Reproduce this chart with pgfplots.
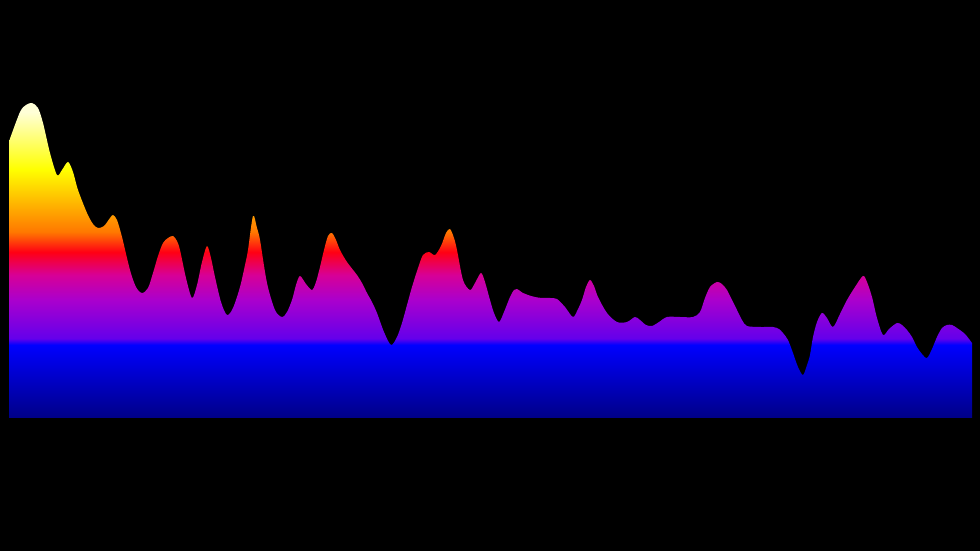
\documentclass[border=0pt]{standalone}
\usepackage{pgfplots}
\pgfplotsset{compat=1.18}
\definecolor{cNavy}{RGB}{0,0,135}
\definecolor{cBlue}{RGB}{0,0,255}
\definecolor{cViolet}{RGB}{100,0,235}
\definecolor{cPurple}{RGB}{170,0,205}
\definecolor{cMagenta}{RGB}{215,0,150}
\definecolor{cRed}{RGB}{255,0,20}
\definecolor{cOrange}{RGB}{255,120,0}
\definecolor{cYellow}{RGB}{255,255,0}
\definecolor{cPale}{RGB}{255,255,215}
\pgfdeclareverticalshading{heat}{100bp}{
color(0bp)=(cNavy); color(25bp)=(cNavy); color(36.6bp)=(cBlue); color(37.6bp)=(cViolet);
color(43.7bp)=(cPurple); color(47.7bp)=(cMagenta); color(51.3bp)=(cRed);
color(54.5bp)=(cOrange); color(64.4bp)=(cYellow); color(73.5bp)=(cPale); color(100bp)=(cPale)}
\begin{document}
\begin{tikzpicture}
\fill[black] (0,0) rectangle (980bp,551bp);
\begin{axis}[at={(0,0)}, anchor=south west, scale only axis,
  width=980bp, height=551bp, xmin=0, xmax=980, ymin=-133, ymax=418, hide axis]
\addplot[draw=none, shading=heat, smooth, tension=0.5] coordinates {
(9.5,278)(20,306)(26,313)(32,315)(38,310)(43,295)(50,265)(57,243)(62,248)(68,256)
(73,246)(78,228)(87,205)(93,194)(98,190)(104,192)(110,200)(113,203)(117,198)(122,181)
(130,148)(136,131)(142,125)(148,130)(153,145)(158,162)(163,175)(168,180)(173,182)(177,177)
(180,168)(186,140)(192,120)(197,133)(202,156)(207,172)(211,160)(215,141)(221,116)(227,103)
(233,110)(240,131)(245,153)(248,168)(253,202)(257,190)(260,178)(267,135)(275,108)(282,101)
(287,106)(292,118)(296,133)(300,142)(306,134)(312,128)(316,136)(320,151)(324,168)(328,182)
(332,185)(336,178)(340,168)(347,156)(357,143)(362,135)(367,125)(372,116)(377,105)(384,86)
(391,73)(397,81)(402,95)(407,113)(412,131)(418,150)(423,163)(429,166)(435,163)(441,172)
(446,185)(450,189)(454,180)(457,168)(463,138)(470,128)(475,135)(481,145)(485,136)(490,118)
(494,105)(499,96)(504,106)(510,121)(514,128)(517,129)(523,125)(528,123)(535,121)(542,120)
(550,120)(557,119)(565,111)(573,101)(578,109)(582,118)(586,131)(590,138)(594,132)(598,121)
(607,105)(617,96)(627,96)(635,101)(640,98)(646,93)(652,92)(659,96)(667,101)(680,101)
(693,101)(700,106)(705,120)(710,131)(717,136)(722,134)(727,128)(732,118)(737,108)(742,98)
(747,92)(760,91)(773,91)(779,89)(783,85)(788,78)(793,65)(798,51)(803,43)(807,53)
(810,63)(813,81)(817,96)(822,105)(827,100)(833,91)(840,104)(847,118)(855,131)(863,142)
(867,136)(872,121)(877,100)(883,83)(889,89)(897,95)(902,93)(907,88)(912,81)(917,71)
(922,64)(927,60)(932,69)(937,81)(942,90)(947,93)(952,93)(957,90)(965,84)(972,75)
} \closedcycle;
\end{axis}
\end{tikzpicture}
\end{document}
